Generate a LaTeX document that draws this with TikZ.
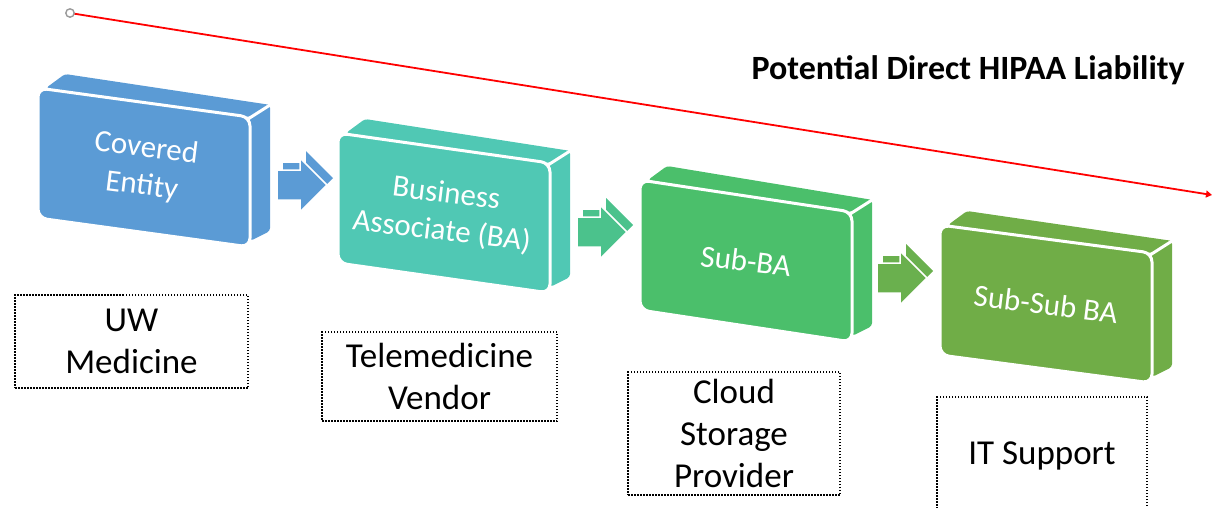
\documentclass[tikz,border=0pt]{standalone}
\usepackage{fontspec}
\setmainfont{Carlito}
\usetikzlibrary{calc,arrows.meta}
\definecolor{ceblue}{HTML}{5B9BD5}
\definecolor{bateal}{HTML}{50C8B4}
\definecolor{subgreen}{HTML}{4BBF6B}
\definecolor{subsubgreen}{HTML}{70AD47}
\definecolor{arrowteal}{HTML}{4BC28C}
\definecolor{arrowolive}{HTML}{6AB04E}
\definecolor{ringgray}{HTML}{9A9A9A}

\begin{document}
\begin{tikzpicture}[x=1pt,y=-1pt,
    dotbox/.style={draw=black,line width=1.5pt,dash pattern=on 1.5pt off 1.5pt,
      align=center,inner sep=0pt,font=\fontsize{35}{42}\selectfont},
    boxtext/.style={text=white,align=center,rotate=-7,font=\fontsize{31}{38}\selectfont}]
    \useasboundingbox (0,0) rectangle (1213,507);
    \def \bw {212}; % largeur face avant
    \def \bh {130}; % hauteur face avant
    % ligne de responsabilite
    \coordinate (lstart) at (70,13);
    \coordinate (lend) at (1212,195);
    \draw[red,line width=1.8pt,-{Triangle[length=6pt,width=7pt]}] (lstart) -- (lend);
    \draw[ringgray,line width=1.4pt,fill=white] (lstart) circle (4.2);
    \node[anchor=west,font=\bfseries\fontsize{34}{40}\selectfont] (title) at (748,70) {Potential Direct HIPAA Liability};
    % blocs 3D
    \foreach \bx/\by/\bs/\col/\nm/\txt in {38/88/29/ceblue/ce/{Covered\\Entity},
        338/133/30/bateal/ba/{Business\\Associate (BA)},
        640/180/32/subgreen/sba/{Sub-BA},
        940/225/28/subsubgreen/ssba/{Sub-Sub BA}}
    {
    \fill[\col,rounded corners=3] (\bx+8,\by) -- ++(19,-14) -- ++(\bw-6,\bs+2) -- (\bx+\bw,\by+\bs) -- cycle;
    \fill[\col,rounded corners=3] (\bx+\bw,\by+\bs) -- ++(20,-12) -- ++(0,\bh-4) -- (\bx+\bw,\by+\bs+\bh-6) -- cycle;
    \filldraw[fill=\col,draw=white,line width=3pt,rounded corners=9] (\bx,\by) -- (\bx+\bw,\by+\bs) -- (\bx+\bw,\by+\bs+\bh) -- (\bx,\by+\bh) -- cycle;
    \draw[white,line width=3pt] (\bx+\bw-2,\by+\bs+2) -- ++(22,-14);
    \node[boxtext] (\nm) at (\bx+\bw/2,\by+\bs/2+\bh/2) {\txt};
    }
    % fleches 3D
    \foreach \ax/\ay/\col in {277/185/ceblue, 577/232/arrowteal, 877/278/arrowolive}
    {
    \fill[\col,shift={(\ax+6,\ay-7)}] (0,-15) -- (23,-15) -- (23,-27) -- (50,0) -- (23,27) -- (23,15) -- (0,15) -- cycle;
    \filldraw[fill=\col,draw=white,line width=1.5pt,shift={(\ax,\ay)}] (0,-15) -- (23,-15) -- (23,-27) -- (50,0) -- (23,27) -- (23,15) -- (0,15) -- cycle;
    }
    % entites
    \node[dotbox,minimum width=233,minimum height=93] (uw) at (131.5,341.5) {UW\\Medicine};
    \node[dotbox,minimum width=235,minimum height=89] (tv) at (439.5,376.5) {Telemedicine\\Vendor};
    \node[dotbox,minimum width=212,minimum height=123] (csp) at (734,433.5) {Cloud\\Storage\\Provider};
    \node[dotbox,minimum width=210,minimum height=118] (its) at (1042,456) {IT Support};
\end{tikzpicture}
\end{document}
